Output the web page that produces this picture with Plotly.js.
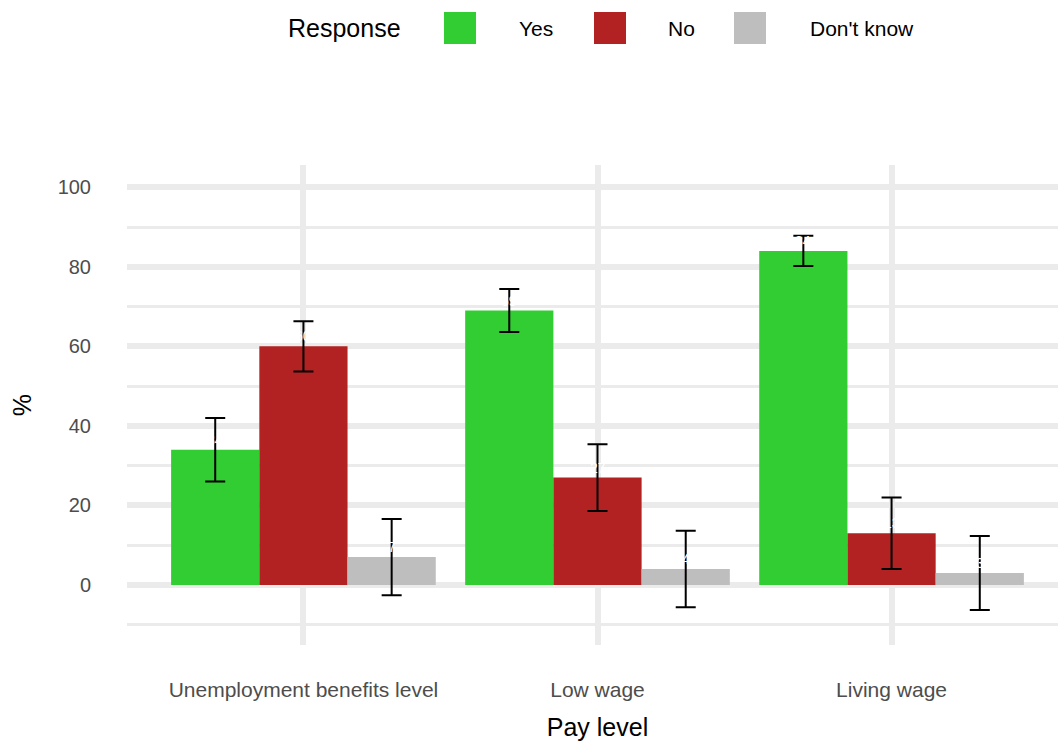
<!DOCTYPE html>
<html>
<head>
<meta charset="utf-8">
<script src="https://cdn.plot.ly/plotly-3.0.1.min.js"></script>
<style>
  html, body { margin: 0; padding: 0; background: #fff; overflow: hidden; }
  #chart { width: 1068px; height: 745px; }
</style>
</head>
<body>
<div id="chart"></div>
<script>
// Survey responses by pay level, with 95% intervals
const payLevels = ["Unemployment benefits level", "Low wage", "Living wage"];
const responses = ["Yes", "No", "Don't know"];
const colours = ["#32CD32", "#B22222", "#BEBEBE"];

const yesPct = [34, 69, 84];
const noPct = [60, 27, 13];
const dontKnowPct = [7, 4, 3];

const yesErr = [8.0, 5.4, 3.8];
const noErr = [6.3, 8.4, 9.0];
const dontKnowErr = [9.6, 9.6, 9.3];

const yTicks = [0, 20, 40, 60, 80, 100];

const series = [yesPct, noPct, dontKnowPct];
const errors = [yesErr, noErr, dontKnowErr];

// Figure geometry (px)
const W = 1068, H = 745;
const M = { l: 127, r: 0, t: 165, b: 100 };
const plotW = W - M.l - M.r, plotH = H - M.t - M.b;
const px = x => (x - M.l) / plotW;
const py = y => (H - M.b - y) / plotH;

const xRange = [-0.6, 2.6];
const unitPx = plotW / (xRange[1] - xRange[0]);
const barWidth = 0.3;
const FONT = "Liberation Sans, Arial, sans-serif";

const traces = responses.map((name, i) => ({
  type: "bar",
  name: name,
  x: payLevels,
  y: series[i],
  marker: { color: colours[i], line: { width: 0 } },
  error_y: {
    type: "data",
    array: errors[i],
    visible: true,
    color: "#000000",
    thickness: 2,
    width: 10
  },
  hoverinfo: "x+y+name",
  showlegend: false
}));

// White value labels above each bar
const annotations = [];
responses.forEach((name, i) => {
  payLevels.forEach((lvl, j) => {
    annotations.push({
      x: lvl, y: series[i][j], xref: "x", yref: "y",
      xshift: (i - 1) * barWidth * unitPx,
      yanchor: "bottom", yshift: 0,
      text: String(series[i][j]),
      showarrow: false,
      font: { family: FONT, size: 14, color: "#FFFFFF" }
    });
  });
});

// Legend drawn along the top
const shapes = [];
annotations.push({
  xref: "paper", yref: "paper", x: px(286), y: py(28),
  xanchor: "left", yanchor: "middle", showarrow: false,
  text: "Response",
  font: { family: FONT, size: 25, color: "#000000" }
});
const swatchLeft = [444, 594, 734];
const labelLeft = [517, 666, 808];
responses.forEach((name, i) => {
  shapes.push({
    type: "rect", xref: "paper", yref: "paper",
    x0: px(swatchLeft[i]), x1: px(swatchLeft[i] + 32),
    y0: py(44), y1: py(12),
    fillcolor: colours[i], line: { width: 0 }
  });
  annotations.push({
    xref: "paper", yref: "paper", x: px(labelLeft[i]), y: py(28),
    xanchor: "left", yanchor: "middle", showarrow: false,
    text: name,
    font: { family: FONT, size: 21, color: "#000000" }
  });
});

const layout = {
  width: W, height: H,
  margin: M,
  paper_bgcolor: "#FFFFFF",
  plot_bgcolor: "#FFFFFF",
  font: { family: FONT, color: "#4D4D4D" },
  barmode: "group",
  bargap: 0.1,
  bargroupgap: 0,
  showlegend: false,
  xaxis: {
    type: "category",
    range: xRange,
    showgrid: true,
    gridcolor: "#EBEBEB",
    gridwidth: 6,
    zeroline: false,
    showline: false,
    ticks: "outside",
    ticklen: 26,
    tickcolor: "rgba(0,0,0,0)",
    tickfont: { size: 21, color: "#4D4D4D" },
    title: { text: "Pay level", font: { size: 25, color: "#000000" }, standoff: 18 }
  },
  yaxis: {
    range: [-15.1, 105.6],
    tickvals: yTicks,
    ticktext: yTicks.map(String),
    showgrid: true,
    gridcolor: "#EBEBEB",
    gridwidth: 6,
    minor: { dtick: 10, tick0: 0, showgrid: true, gridcolor: "#EBEBEB", gridwidth: 3 },
    zeroline: false,
    showline: false,
    ticks: "outside",
    ticklen: 31,
    tickcolor: "rgba(0,0,0,0)",
    tickfont: { size: 20, color: "#4D4D4D" },
    title: { text: "%", font: { size: 25, color: "#000000" }, standoff: 18 }
  },
  shapes: shapes,
  annotations: annotations
};

Plotly.newPlot("chart", traces, layout, { displayModeBar: false, staticPlot: true });
</script>
</body>
</html>
